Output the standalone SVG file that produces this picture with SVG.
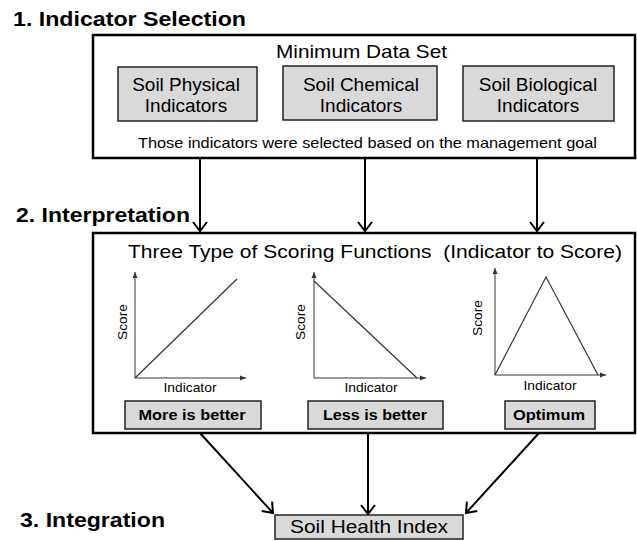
<svg xmlns="http://www.w3.org/2000/svg" width="637" height="541" viewBox="0 0 637 541">
<defs>
<marker id="arr" markerUnits="userSpaceOnUse" viewBox="-11 -9 13 18" refX="0" refY="0" markerWidth="13" markerHeight="18" orient="auto">
<path d="M-9,-7 L0,0 L-9,7" fill="none" stroke="#000" stroke-width="2"/>
</marker>
<marker id="ax" markerUnits="userSpaceOnUse" viewBox="-6 -3 7 6" refX="0" refY="0" markerWidth="7" markerHeight="6" orient="auto">
<path d="M-6,-2.5 L0,0 L-6,2.5 Z" fill="#333"/>
</marker>
<style>
.t{font-family:"Liberation Sans",Arial,sans-serif;fill:#000}
.h{font-weight:bold;font-size:21px}
.frame{fill:#fff;stroke:#000;stroke-width:2.5}
.gbox{fill:#d9d9d9;stroke:#222;stroke-width:1.5}
.lbl{font-size:19px;text-anchor:middle}
.axis{fill:none;stroke:#777;stroke-width:1.5}
.fn{fill:none;stroke:#333;stroke-width:1.2}
.sm{font-size:13px;text-anchor:middle}
.bb{font-size:15px;font-weight:bold;text-anchor:middle}
.conn{fill:none;stroke:#000;stroke-width:2}
</style>
</defs>

<text class="t h" x="13" y="26" textLength="233" lengthAdjust="spacingAndGlyphs">1. Indicator Selection</text>
<text class="t h" x="16" y="222" textLength="174" lengthAdjust="spacingAndGlyphs">2. Interpretation</text>
<text class="t h" x="20" y="527" textLength="145" lengthAdjust="spacingAndGlyphs">3. Integration</text>

<g id="selection">
<rect class="frame" x="93" y="35" width="542" height="123"/>
<text class="t" x="276" y="58" font-size="19" textLength="171" lengthAdjust="spacingAndGlyphs">Minimum Data Set</text>
<text class="t" x="138" y="148" font-size="15" textLength="459" lengthAdjust="spacingAndGlyphs">Those indicators were selected based on the management goal</text>
</g>
<g id="physical">
<rect class="gbox" x="118" y="67" width="139" height="54"/>
<text class="t lbl" x="186" y="91">Soil Physical</text>
<text class="t lbl" x="186" y="112">Indicators</text>
</g>
<g id="chemical">
<rect class="gbox" x="283" y="66" width="154" height="54"/>
<text class="t lbl" x="361" y="91">Soil Chemical</text>
<text class="t lbl" x="361" y="112">Indicators</text>
</g>
<g id="biological">
<rect class="gbox" x="463" y="66" width="151" height="55"/>
<text class="t lbl" x="538" y="91">Soil Biological</text>
<text class="t lbl" x="538" y="112">Indicators</text>
</g>

<g id="interpretation">
<rect class="frame" x="93" y="233" width="542" height="200"/>
<text class="t" x="128" y="258" font-size="19" textLength="494" lengthAdjust="spacingAndGlyphs" xml:space="preserve">Three Type of Scoring Functions  (Indicator to Score)</text>
</g>

<g id="more-is-better">
<path class="axis" d="M135,378 L135,272" marker-end="url(#ax)"/>
<path class="axis" d="M135,378 L246,378" marker-end="url(#ax)"/>
<path class="fn" d="M135,378 L237,279"/>
<text class="t sm" transform="translate(127,322) rotate(-90)" textLength="36" lengthAdjust="spacingAndGlyphs">Score</text>
<text class="t sm" x="190" y="392" textLength="53" lengthAdjust="spacingAndGlyphs">Indicator</text>
<rect class="gbox" x="125" y="401" width="136" height="28"/>
<text class="t bb" x="192" y="420" textLength="107" lengthAdjust="spacingAndGlyphs">More is better</text>
</g>

<g id="less-is-better">
<path class="axis" d="M314,378 L314,272" marker-end="url(#ax)"/>
<path class="axis" d="M314,378 L426,378" marker-end="url(#ax)"/>
<path class="fn" d="M314,281 L417,378"/>
<text class="t sm" transform="translate(305,322) rotate(-90)" textLength="36" lengthAdjust="spacingAndGlyphs">Score</text>
<text class="t sm" x="371" y="392" textLength="53" lengthAdjust="spacingAndGlyphs">Indicator</text>
<rect class="gbox" x="308" y="401" width="135" height="28"/>
<text class="t bb" x="375" y="420" textLength="104" lengthAdjust="spacingAndGlyphs">Less is better</text>
</g>

<g id="optimum">
<path class="axis" d="M495,375 L495,268" marker-end="url(#ax)"/>
<path class="axis" d="M495,375 L606,375" marker-end="url(#ax)"/>
<path class="fn" d="M495,375 L546,277 L598,375"/>
<text class="t sm" transform="translate(482,318) rotate(-90)" textLength="36" lengthAdjust="spacingAndGlyphs">Score</text>
<text class="t sm" x="550" y="390" textLength="53" lengthAdjust="spacingAndGlyphs">Indicator</text>
<rect class="gbox" x="505" y="401" width="90" height="28"/>
<text class="t bb" x="549" y="420" textLength="72" lengthAdjust="spacingAndGlyphs">Optimum</text>
</g>

<g id="soil-health-index">
<rect class="gbox" x="275" y="515" width="188" height="24"/>
<text class="t lbl" x="369" y="533" textLength="158" lengthAdjust="spacingAndGlyphs">Soil Health Index</text>
</g>

<g id="connectors">
<path class="conn" d="M200,158 L200,231" marker-end="url(#arr)"/>
<path class="conn" d="M365,158 L365,231" marker-end="url(#arr)"/>
<path class="conn" d="M537,158 L537,231" marker-end="url(#arr)"/>
<path class="conn" d="M200,433 L273,513" marker-end="url(#arr)"/>
<path class="conn" d="M368,433 L368,514" marker-end="url(#arr)"/>
<path class="conn" d="M539,433 L466,513" marker-end="url(#arr)"/>
</g>
</svg>
